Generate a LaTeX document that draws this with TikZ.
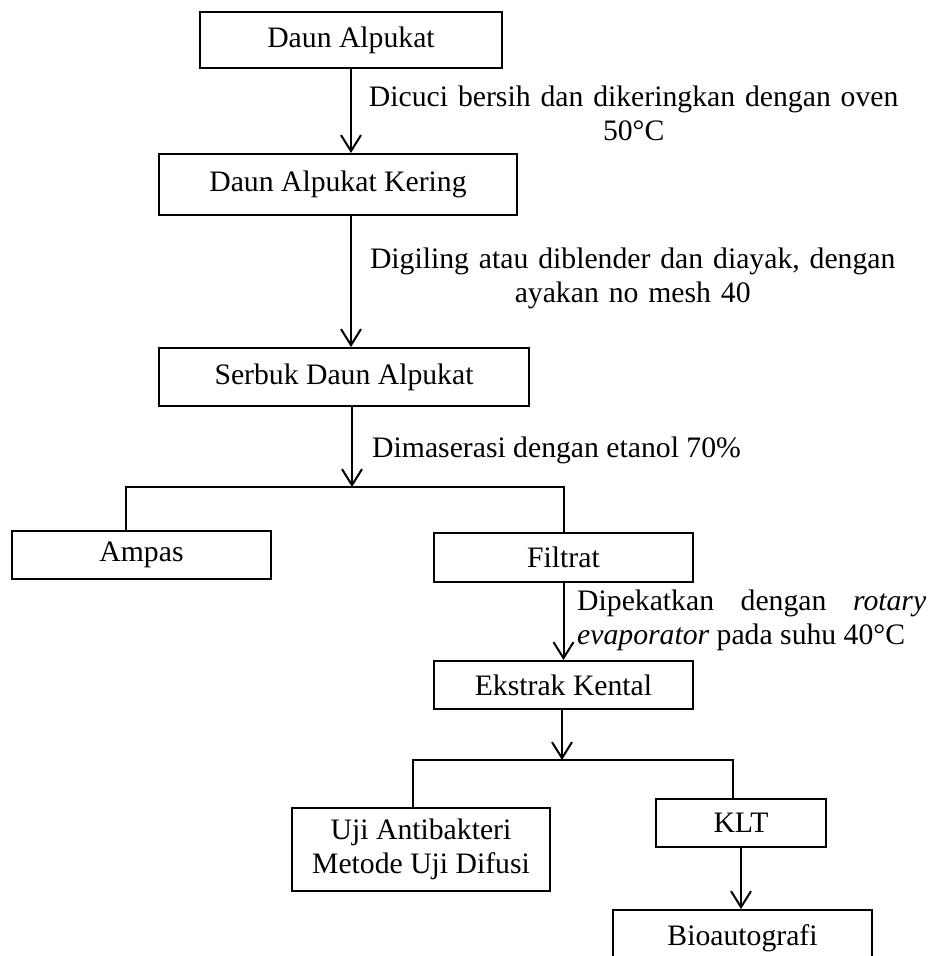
\documentclass[tikz,border=0pt]{standalone}
\usepackage{fontspec}
\setmainfont{Liberation Serif}
\usetikzlibrary{arrows.meta}

\begin{document}
\begin{tikzpicture}
[
    x=1pt, y=-1pt,
    font=\fontsize{29.7}{34}\selectfont,
    box/.style={draw, line width=2pt, inner sep=0pt, align=center},
    line/.style={line width=2pt},
    arr/.style={line width=2pt, -{Straight Barb[length=16pt, width=20pt, line width=2pt]}},
    lbl/.style={anchor=north west, inner sep=0pt},
]
\useasboundingbox (0,0) rectangle (935,956);

% boxes
\node[box, minimum width=302pt, minimum height=56pt] (alpukat) at (351,40) {Daun Alpukat};
\node[box, minimum width=358pt, minimum height=61pt] (kering) at (338,184.5) {Daun Alpukat Kering};
\node[box, minimum width=370pt, minimum height=58pt] (serbuk) at (344,377) {Serbuk Daun Alpukat};
\node[box, minimum width=259pt, minimum height=48pt] (ampas) at (141.5,555) {Ampas};
\node[box, minimum width=259pt, minimum height=49pt] (filtrat) at (563.5,557.5) {Filtrat};
\node[box, minimum width=259pt, minimum height=48pt] (ekstrak) at (563.5,685) {Ekstrak Kental};
\node[box, minimum width=258pt, minimum height=83pt] (uji) at (421,849.5) {Uji Antibakteri\\Metode Uji Difusi};
\node[box, minimum width=170pt, minimum height=48pt] (klt) at (741,823) {KLT};
\node[box, minimum width=259pt, minimum height=56pt] (bio) at (742.5,938) {Bioautografi};

% labels
\node[lbl, text width=530pt, align=center] (cuci) at (368.5,86) {Dicuci bersih dan dikeringkan dengan oven\\50°C};
\node[lbl, text width=526pt, align=center] (giling) at (369.5,248) {Digiling atau diblender dan diayak, dengan\\ayakan no mesh 40};
\node[lbl] (maserasi) at (372,437) {Dimaserasi dengan etanol 70\%};
\node[lbl, text width=349pt, align=justify] (pekat) at (577,590)
    {\hyphenpenalty=10000\tolerance=10000 Dipekatkan dengan \textit{rotary} \textit{evaporator} pada suhu 40°C};

% split points
\coordinate (split1) at (352,487);
\coordinate (split1L) at (126,487);
\coordinate (split2) at (562,760);
\coordinate (split2L) at (413,760);
\coordinate (split2R) at (733,760);

% connectors
\draw[arr] (alpukat.south) -- (alpukat.south |- kering.north);
\draw[arr] (kering.south -| alpukat.south) -- (serbuk.north -| alpukat.south);
\draw[arr] (serbuk.south -| split1) -- (split1);
\draw[line] (ampas.north -| split1L) -- (split1L) -- (split1 -| filtrat.north) -- (filtrat.north);
\draw[arr] (filtrat.south) -- (ekstrak.north);
\draw[arr] (ekstrak.south -| split2) -- (split2);
\draw[line] (uji.north -| split2L) -- (split2L) -- (split2R) -- (klt.north -| split2R);
\draw[arr] (klt.south) -- (bio.north -| klt.south);
\end{tikzpicture}
\end{document}
